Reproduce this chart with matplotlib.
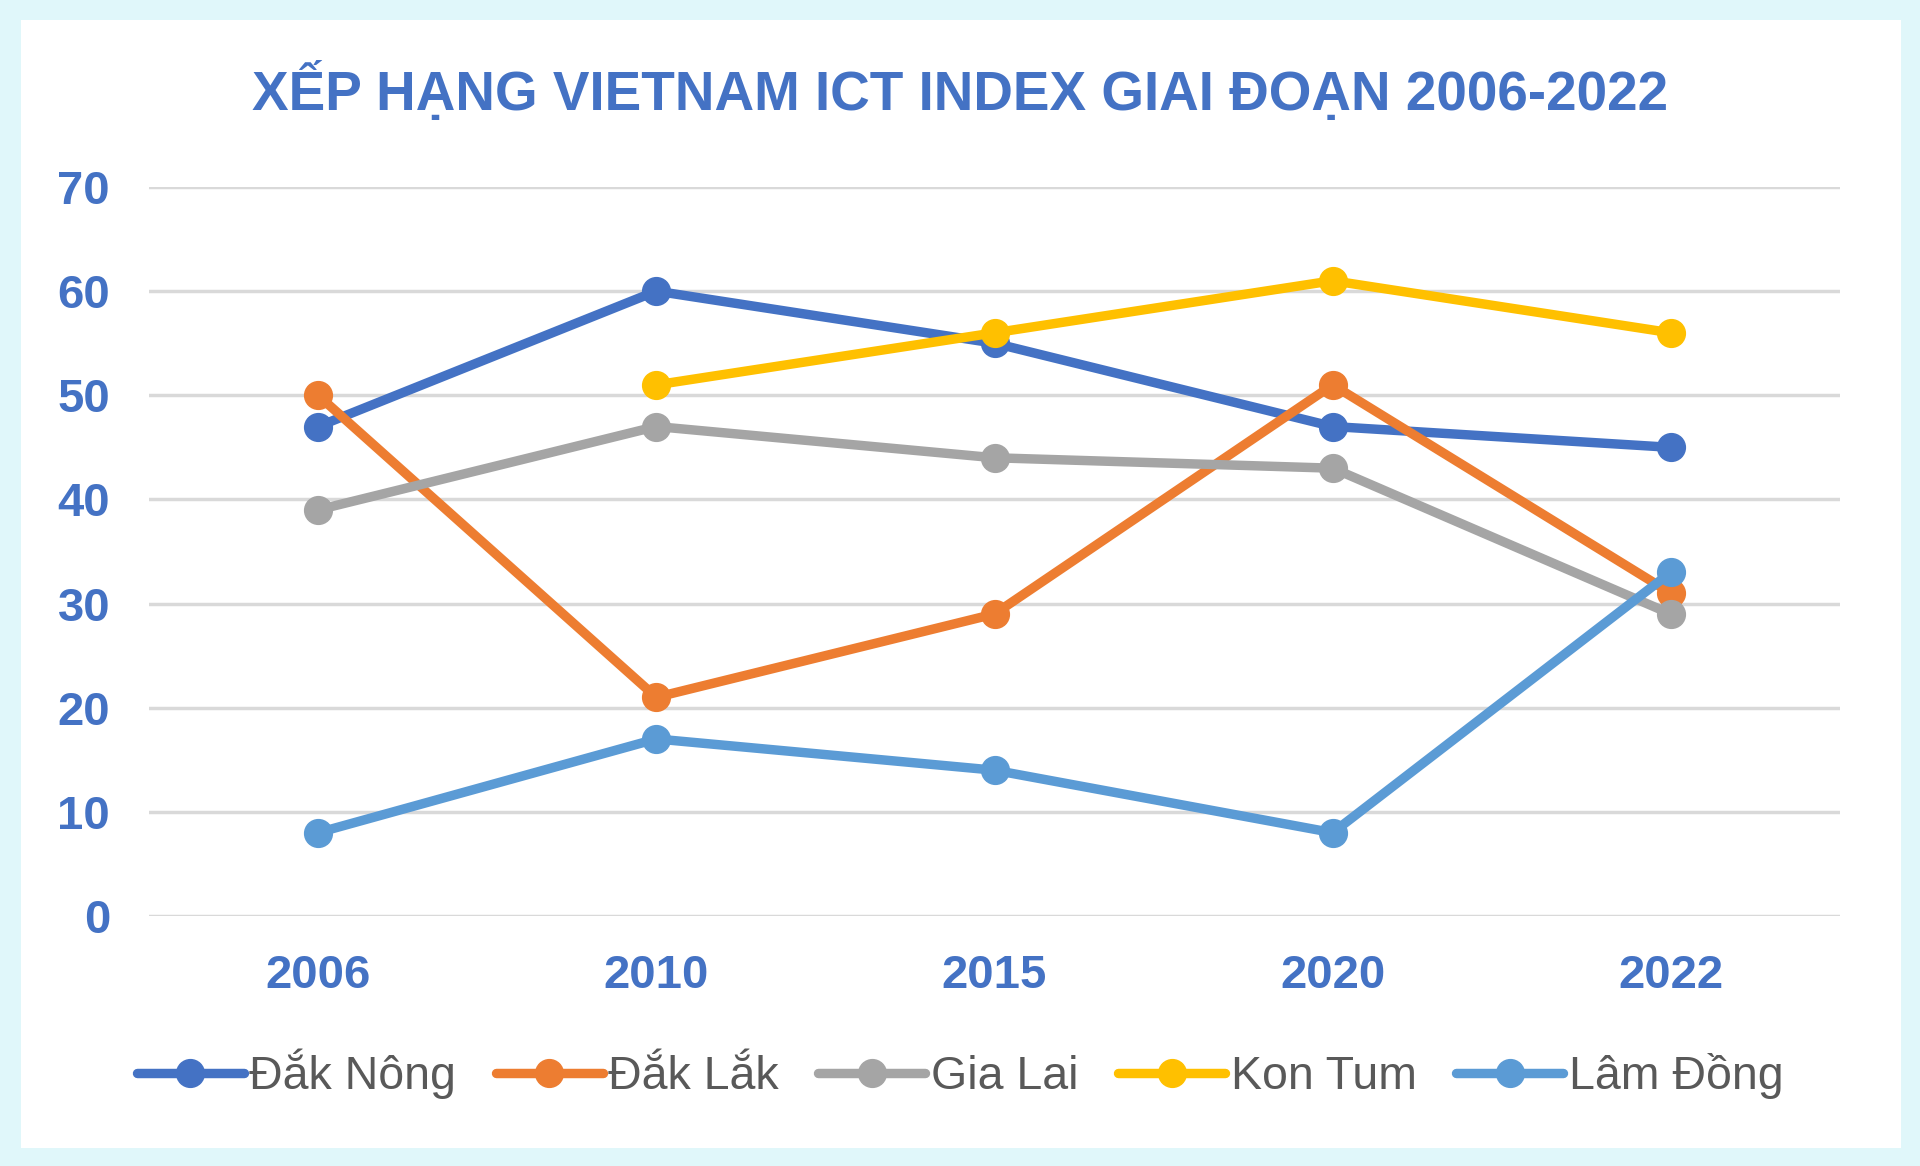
import numpy as np
import matplotlib.pyplot as plt
from matplotlib.patches import Rectangle

plt.rcParams['font.family'] = ['Liberation Sans', 'DejaVu Sans']

# data
years = ['2006', '2010', '2015', '2020', '2022']
dak_nong = [47, 60, 55, 47, 45]
dak_lak = [50, 21, 29, 51, 31]
gia_lai = [39, 47, 44, 43, 29]
kon_tum = [np.nan, 51, 56, 61, 56]
lam_dong = [8, 17, 14, 8, 33]

series = [
    ('Đắk Nông', dak_nong, '#4472C4'),
    ('Đắk Lắk', dak_lak, '#ED7D31'),
    ('Gia Lai', gia_lai, '#A5A5A5'),
    ('Kon Tum', kon_tum, '#FFC000'),
    ('Lâm Đồng', lam_dong, '#5B9BD5'),
]

W, H = 1920, 1166
fig = plt.figure(figsize=(W / 100, H / 100), dpi=100)
fig.patch.set_facecolor('#E0F7FA')
fig.patches.append(Rectangle((21 / W, 1 - 1148 / H), (1901 - 21) / W, (1148 - 20) / H,
                             transform=fig.transFigure, facecolor='white',
                             edgecolor='none', zorder=-5))

ax = fig.add_axes([149 / W, 1 - 916 / H, (1840 - 149) / W, (916 - 187) / H])
ax.set_facecolor('none')

x = np.arange(len(years))
for name, vals, col in series:
    ax.plot(x, vals, color=col, lw=6.8, marker='o', ms=20, label=name,
            solid_capstyle='round', zorder=3)

ax.set_xlim(-0.5, len(years) - 0.5)
ax.set_ylim(0, 70)
ax.set_yticks(range(0, 71, 10))
ax.set_xticks(x)
ax.set_xticklabels(years)
ax.yaxis.grid(True, color='#D9D9D9', lw=2.5)
ax.set_axisbelow(True)
for s in ax.spines.values():
    s.set_visible(False)
ax.tick_params(length=0, labelsize=34, labelcolor='#4472C4')
ax.tick_params(axis='y', pad=28)
ax.tick_params(axis='x', pad=27)
for t in ax.get_xticklabels() + ax.get_yticklabels():
    t.set_fontweight('bold')

fig.text(0.5, 1 - 92 / H, 'XẾP HẠNG VIETNAM ICT INDEX GIAI ĐOẠN 2006-2022',
         ha='center', va='center', fontsize=39.5, fontweight='bold', color='#4472C4')

leg = fig.legend(loc='center', bbox_to_anchor=(0.5, 1 - 1074 / H), ncol=5,
                 frameon=False, fontsize=33.5, handlelength=2.3, handletextpad=0.12,
                 columnspacing=0.85, markerscale=1.0)
for t in leg.get_texts():
    t.set_color('#595959')

fig.savefig('out.png', dpi=100, facecolor=fig.get_facecolor())
